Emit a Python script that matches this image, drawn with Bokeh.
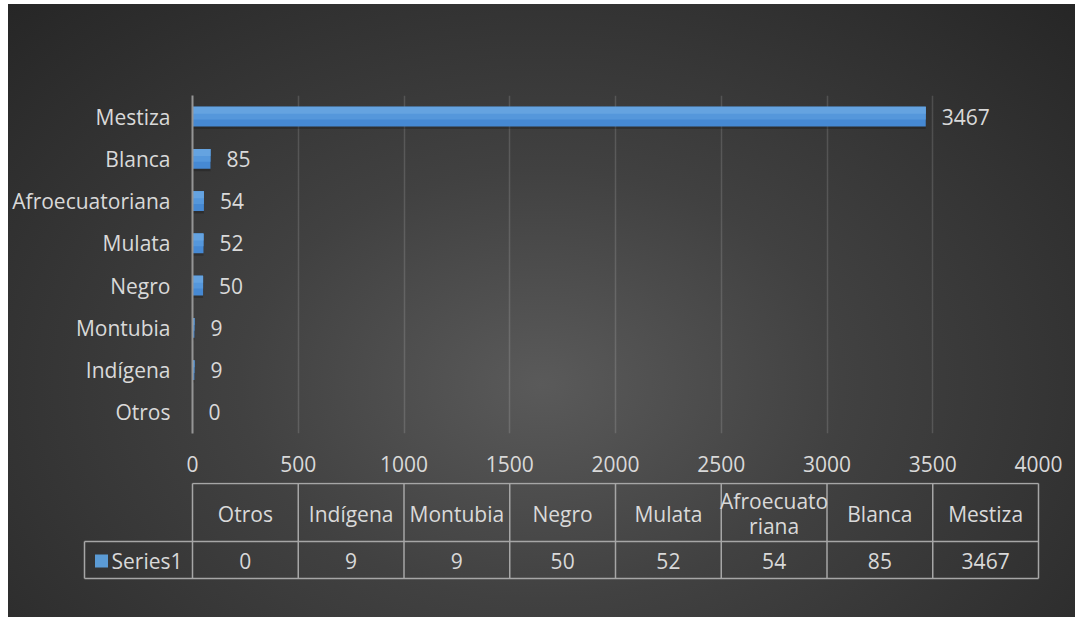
from bokeh.plotting import figure
from bokeh.models import Range1d, FactorRange, SingleIntervalTicker, ColumnDataSource, LabelSet
from bokeh.layouts import column
from bokeh.transform import dodge
from bokeh.embed import file_html
from bokeh.resources import INLINE
from bokeh.core.properties import value

# ---- data ----
categories = ["Otros", "Indígena", "Montubia", "Negro", "Mulata", "Afroecuatoriana", "Blanca", "Mestiza"]
values = [0, 9, 9, 50, 52, 54, 85, 3467]
series_name = "Series1"
x_max = 4000
tick_step = 500

FONT = "Open Sans"
TXT = "#d9d9d9"
BAR = "#5b9bd5"
FS = "21px"

W = 1067
TOP_H = 478
BOT_H = 135
ML, MT, MB = 184, 91, 49
frame_w = 846
MR = W - ML - frame_w
upp = x_max / frame_w  # data units per pixel

# ---- top: bar chart ----
p = figure(width=W, height=TOP_H, output_backend="svg", toolbar_location=None,
           x_range=Range1d(0, x_max), y_range=FactorRange(*categories, range_padding=0),
           min_border_left=ML, min_border_right=MR, min_border_top=MT, min_border_bottom=MB)
p.frame_align = False
p.background_fill_color = None
p.border_fill_color = None
p.outline_line_color = None

src = ColumnDataSource(dict(cat=categories, val=values, lab=[str(v) for v in values]))
BH = 0.47
# soft shadow
p.hbar(y=dodge("cat", -0.06, range=p.y_range), right="val", left=0, height=BH, source=src,
       fill_color="#000000", fill_alpha=0.2, line_color=None)
# bar: darker base, lighter upper layers (shading)
p.hbar(y="cat", right="val", left=0, height=BH, source=src, fill_color="#4689d3", line_color=None)
for frac, c in [(0.65, "#5597db"), (0.35, "#65a3e0")]:
    p.hbar(y=dodge("cat", BH / 2 - frac * BH / 2, range=p.y_range), right="val", left=0,
           height=frac * BH, source=src, fill_color=c, line_color=None)

labels = LabelSet(x="val", y="cat", text="lab", source=src, x_offset=16,
                  text_baseline="middle", text_align="left", text_color=TXT,
                  text_font=value(FONT), text_font_size=FS)
p.add_layout(labels)

p.xaxis.ticker = SingleIntervalTicker(interval=tick_step)
p.xaxis.axis_line_color = None
p.xaxis.major_tick_line_color = None
p.xaxis.major_tick_out = 0
p.xaxis.major_tick_in = 0
p.xaxis.minor_tick_line_color = None
p.xaxis.minor_tick_out = 0
p.xaxis.major_label_standoff = 22
p.xaxis.major_label_text_color = TXT
p.xaxis.major_label_text_font = FONT
p.xaxis.major_label_text_font_size = FS

p.yaxis.axis_line_color = "#959595"
p.yaxis.axis_line_width = 2
p.yaxis.major_tick_line_color = None
p.yaxis.major_tick_out = 0
p.yaxis.major_tick_in = 0
p.yaxis.minor_tick_line_color = None
p.yaxis.minor_tick_out = 0
p.yaxis.major_label_standoff = 22
p.yaxis.major_label_text_color = TXT
p.yaxis.major_label_text_font = FONT
p.yaxis.major_label_text_font_size = FS

p.xgrid.grid_line_color = "#ffffff"
p.xgrid.grid_line_alpha = 0.14
p.xgrid.grid_line_width = 1.5
p.ygrid.grid_line_color = None

# ---- bottom: data table ----
q = figure(width=W, height=BOT_H, output_backend="svg", toolbar_location=None,
           x_range=Range1d(-ML * upp, (W - ML) * upp), y_range=Range1d(BOT_H, 0),
           min_border_left=0, min_border_right=0, min_border_top=0, min_border_bottom=0)
q.frame_align = False
q.background_fill_color = None
q.border_fill_color = None
q.outline_line_color = None
q.axis.visible = False
q.grid.visible = False

n = len(categories)
col_w = x_max / n
head_top, head_bot, row_bot = 1, 59, 96
leg_w = 108 * upp
LINE = "#a6a6a6"

edges = [i * col_w for i in range(n + 1)]
q.segment(x0=edges, y0=[head_top] * len(edges), x1=edges, y1=[row_bot] * len(edges),
          line_color=LINE, line_width=1.5)
q.segment(x0=[-leg_w], y0=[head_bot], x1=[-leg_w], y1=[row_bot], line_color=LINE, line_width=1.5)
q.segment(x0=[0, -leg_w, -leg_w], y0=[head_top, head_bot, row_bot],
          x1=[x_max, x_max, x_max], y1=[head_top, head_bot, row_bot],
          line_color=LINE, line_width=1.5)

def wrap(s, k=10):
    return s if len(s) <= k else s[:k] + "\n" + s[k:]

centers = [(i + 0.5) * col_w for i in range(n)]
q.text(x=centers, y=[(head_top + head_bot) / 2 + 1] * n, text=[wrap(c) for c in categories],
       text_align="center", text_baseline="middle", text_color=TXT,
       text_font=value(FONT), text_font_size=FS, text_line_height=0.88)
q.text(x=centers, y=[(head_bot + row_bot) / 2 + 1] * n, text=[str(v) for v in values],
       text_align="center", text_baseline="middle", text_color=TXT,
       text_font=value(FONT), text_font_size=FS)
q.scatter(x=[-leg_w + 17 * upp], y=[(head_bot + row_bot) / 2 + 1], marker="square", size=13,
          fill_color=BAR, line_color=None)
q.text(x=[-leg_w + 27 * upp], y=[(head_bot + row_bot) / 2 + 1], text=[series_name],
       text_align="left", text_baseline="middle", text_color=TXT,
       text_font=value(FONT), text_font_size=FS)

layout = column(p, q, spacing=0)
layout.styles = {
    "margin": "4px 0 0 8px",
    "background": "radial-gradient(ellipse farthest-corner at 50% 62%, #5a5a5a 0%, #414141 40%, #262626 100%)",
}

open("out.html", "w").write(file_html(layout, INLINE))
